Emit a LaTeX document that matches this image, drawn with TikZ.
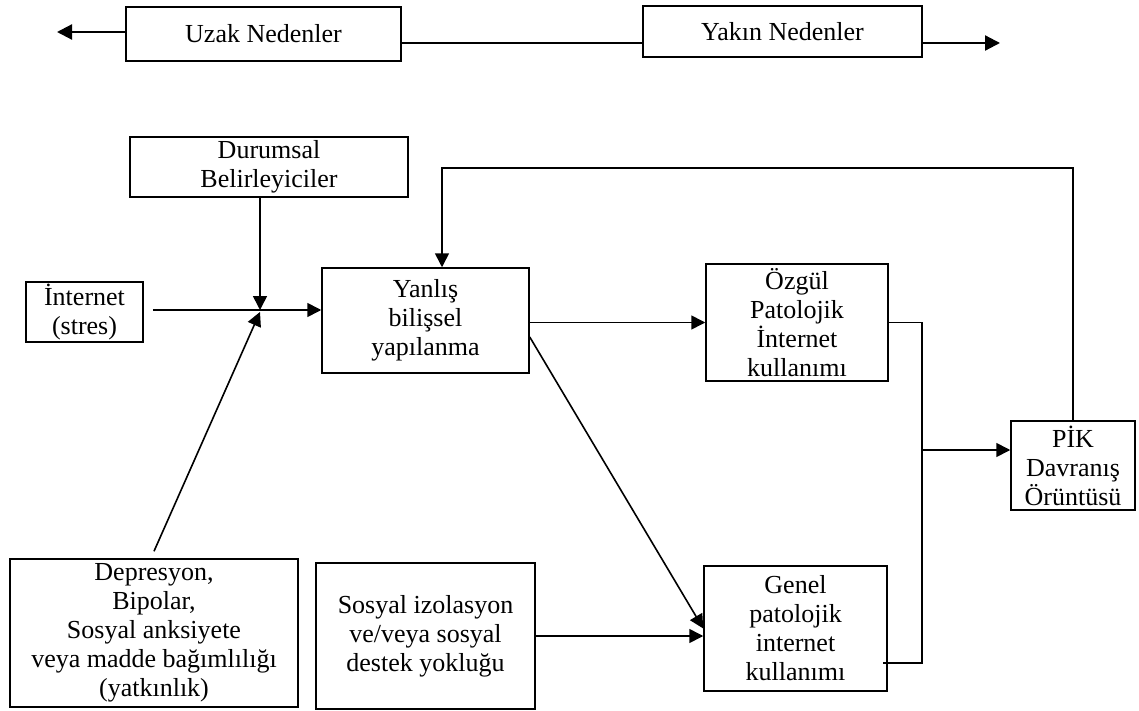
\documentclass[tikz,border=0pt]{standalone}
\usepackage{fontspec}
\setmainfont{Liberation Serif}
\usetikzlibrary{arrows.meta}
\begin{document}
\begin{tikzpicture}[x=1pt,y=-1pt,
  box/.style={draw, line width=1.5pt, inner sep=0pt, align=center,
    font=\fontsize{26}{29}\selectfont},
  arr/.style={-{Triangle[length=14pt,width=14pt]}, line width=1.6pt},
  toparr/.style={-{Triangle[length=15pt,width=15pt]}, line width=2.2pt},
  plain/.style={line width=1.6pt}]
\useasboundingbox[fill=white] (0,0) rectangle (1139,711);

\node[box, minimum width=275pt, minimum height=54pt] (uzak) at (263.5,34) {Uzak Nedenler};
\node[box, minimum width=279pt, minimum height=51pt] (yakin) at (782.5,31.5) {Yakın Nedenler};
\node[box, minimum width=278pt, minimum height=60pt] (durumsal) at (269,167) {Durumsal\\Belirleyiciler};
\node[box, minimum width=117pt, minimum height=60pt] (internet) at (84.5,312) {İnternet\\(stres)};
\node[box, minimum width=207pt, minimum height=105pt] (yanlis) at (425.5,320.5) {Yanlış\\bilişsel\\yapılanma};
\node[box, minimum width=182pt, minimum height=117pt] (ozgul) at (797,322.5) {Özgül\\Patolojik\\İnternet\\kullanımı};
\node[box, minimum width=124pt, minimum height=89pt] (pik) at (1073,465.5) {PİK\\Davranış\\Örüntüsü};
\node[box, minimum width=183pt, minimum height=125pt] (genel) at (795.5,628.5) {Genel\\patolojik\\internet\\kullanımı};
\node[box, minimum width=288pt, minimum height=148pt] (depresyon) at (154,633) {Depresyon,\\Bipolar,\\Sosyal anksiyete\\veya madde bağımlılığı\\(yatkınlık)};
\node[box, minimum width=219pt, minimum height=146pt] (sosyal) at (425.5,636) {Sosyal izolasyon\\ve/veya sosyal\\destek yokluğu};

% top row
\coordinate (la) at (57,32);
\coordinate (ra) at (1000,43);
\draw[toparr] (uzak.west |- la) -- (la);
\draw[plain] (uzak.east |- ra) -- (yakin.west |- ra);
\draw[toparr] (yakin.east |- ra) -- (ra);

% junction
\coordinate (j) at (260,310);
\draw[arr] (j |- durumsal.south) -- (j);
\draw[arr] ([xshift=9pt]internet.east |- j) -- (yanlis.west |- j);
\draw[arr] ([yshift=7pt]depresyon.north) -- ([yshift=-2pt]j);

% feedback loop
\coordinate (fb) at (442,168);
\draw[arr] (pik.north) |- (fb) -- (fb |- yanlis.north);

% yanlis outputs
\draw[arr] (yanlis.east |- ozgul.west) -- (ozgul.west);
\draw[arr] ([yshift=-16.5pt]yanlis.east) -- (genel.west);
\draw[arr] (sosyal.east) -- (genel.west |- sosyal.east);

% merge to PIK
\coordinate (v) at (922,450);
\coordinate (gb) at (883,663);
\draw[plain] (ozgul.east) -- (ozgul.east -| v) -- (v |- gb) -- (gb);
\draw[arr] (v) -- (pik.west |- v);
\end{tikzpicture}
\end{document}
